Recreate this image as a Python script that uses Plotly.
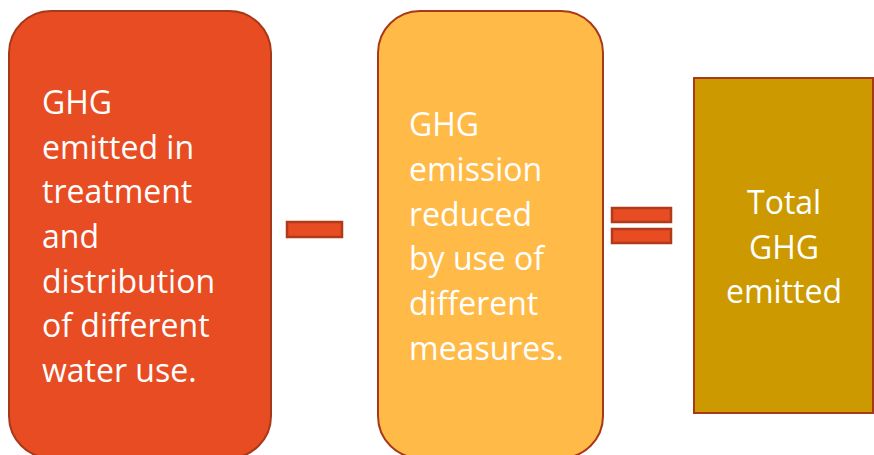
import plotly.graph_objects as go

# ---- content ----
box1_lines = ["GHG", "emitted in", "treatment", "and", "distribution", "of different", "water use."]
box2_lines = ["GHG", "emission", "reduced", "by use of", "different", "measures."]
box3_lines = ["Total", "GHG", "emitted"]

FILL1 = "#E84C22"
FILL2 = "#FFBA47"
FILL3 = "#CC9900"
EDGE = "#A8381A"
W, H = 874, 455
FONT = "Open Sans"
FS = 32
LINE = 44.7


def rounded_rect(x0, y0, x1, y1, r):
    k = 0.5523 * r
    return (
        f"M {x0 + r},{y0} L {x1 - r},{y0} "
        f"C {x1 - r + k},{y0} {x1},{y0 + r - k} {x1},{y0 + r} "
        f"L {x1},{y1 - r} "
        f"C {x1},{y1 - r + k} {x1 - r + k},{y1} {x1 - r},{y1} "
        f"L {x0 + r},{y1} "
        f"C {x0 + r - k},{y1} {x0},{y1 - r + k} {x0},{y1 - r} "
        f"L {x0},{y0 + r} "
        f"C {x0},{y0 + r - k} {x0 + r - k},{y0} {x0 + r},{y0} Z"
    )


shapes = [
    dict(type="path", path=rounded_rect(9, 11, 271, 458, 42),
         fillcolor=FILL1, line=dict(color=EDGE, width=2), layer="below"),
    dict(type="path", path=rounded_rect(378, 11, 603, 458, 42),
         fillcolor=FILL2, line=dict(color=EDGE, width=2), layer="below"),
    dict(type="rect", x0=694, y0=78, x1=873, y1=413,
         fillcolor=FILL3, line=dict(color=EDGE, width=2), layer="below"),
    # minus
    dict(type="rect", x0=287, y0=222, x1=342, y1=237,
         fillcolor=FILL1, line=dict(color="#B03A1A", width=2.5), layer="below"),
    # equals
    dict(type="rect", x0=612, y0=208, x1=671, y1=222,
         fillcolor=FILL1, line=dict(color="#B03A1A", width=2.5), layer="below"),
    dict(type="rect", x0=612, y0=229, x1=671, y1=243,
         fillcolor=FILL1, line=dict(color="#B03A1A", width=2.5), layer="below"),
]

annotations = []


def add_lines(lines, x, first_baseline, anchor):
    for i, t in enumerate(lines):
        base = first_baseline + i * LINE
        annotations.append(dict(
            x=x, y=base - 0.37 * FS, text=t, showarrow=False,
            xanchor=anchor, yanchor="middle", borderpad=0,
            font=dict(family=FONT, size=FS, color="white"),
            xref="x", yref="y",
        ))


add_lines(box1_lines, 41, 113.3, "left")
add_lines(box2_lines, 408, 135.5, "left")
add_lines(box3_lines, 784, 213.3, "center")

fig = go.Figure()
fig.update_layout(
    width=W, height=H,
    margin=dict(l=0, r=0, t=0, b=0),
    paper_bgcolor="white", plot_bgcolor="white",
    xaxis=dict(range=[0, W], visible=False, fixedrange=True),
    yaxis=dict(range=[H, 0], visible=False, fixedrange=True),
    shapes=shapes, annotations=annotations, showlegend=False,
)
fig.write_html("out.html", config=dict(displayModeBar=False),
               post_script="document.body.style.margin='0';document.body.style.overflow='hidden';")
